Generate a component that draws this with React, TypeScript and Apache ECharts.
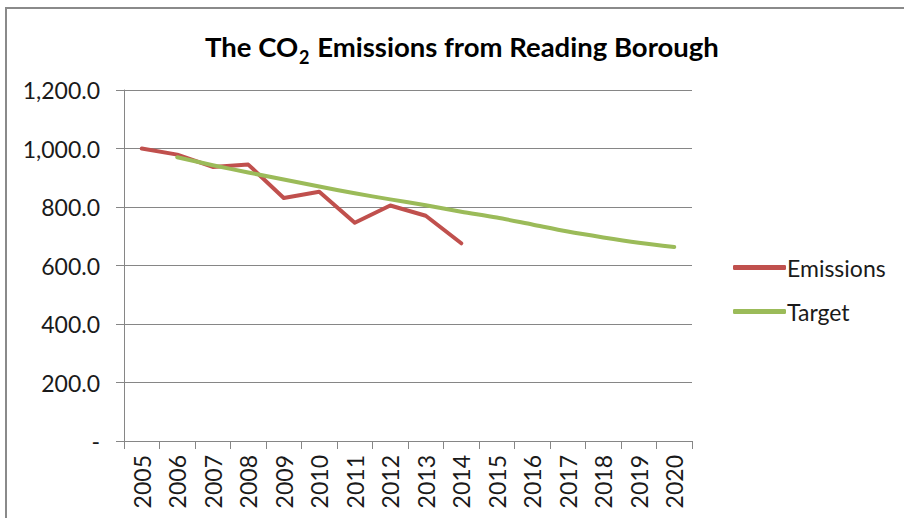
import React, { useEffect, useRef } from "react";
import * as echarts from "echarts";

const years = ["2005","2006","2007","2008","2009","2010","2011","2012","2013","2014","2015","2016","2017","2018","2019","2020"];
const emissions = [1000, 979, 937, 945, 831, 852, 746, 805, 770, 676, null, null, null, null, null, null];
const target = [null, 970, 943, 918, 894, 870, 847, 826, 806, 784, 764, 740, 716, 696, 678, 663];
const yMin = 0;
const yMax = 1200;
const yStep = 200;

const FONT = "Lato";

export default function App() {
  const ref = useRef<HTMLDivElement>(null);
  useEffect(() => {
    if (!ref.current) return;
    const chart = echarts.init(ref.current, null, { renderer: "svg" });
    chart.setOption({
      animation: false,
      backgroundColor: "#ffffff",
      textStyle: { fontFamily: FONT },
      title: {
        text: "{a|The CO}{s|2}{a| Emissions from Reading Borough}",
        left: 200,
        top: 21,
        textStyle: {
          rich: {
            a: { fontFamily: FONT, fontWeight: "bold", fontSize: 27.5, color: "#000" },
            s: { fontFamily: FONT, fontWeight: "bold", fontSize: 18, color: "#000", padding: [22, 1, 0, 1] },
          },
        },
      },
      graphic: [
        {
          type: "rect",
          shape: { x: 6, y: 8, width: 1000, height: 600 },
          style: { fill: "none", stroke: "#8a8a8a", lineWidth: 2 },
          silent: true,
        },
      ],
      legend: {
        orient: "vertical",
        left: 728,
        top: 251,
        itemWidth: 53,
        itemHeight: 5,
        itemGap: 21,
        icon: "roundRect",
        textStyle: { fontFamily: FONT, fontSize: 23, color: "#1a1a1a", padding: [0, 0, 0, -4] },
        data: ["Emissions", "Target"],
      },
      grid: { left: 124, right: 212, top: 90, bottom: 77, containLabel: false },
      xAxis: {
        type: "category",
        data: years,
        boundaryGap: true,
        axisLine: { lineStyle: { color: "#868686", width: 1 } },
        axisTick: { show: true, length: 8, interval: 0, lineStyle: { color: "#868686" } },
        axisLabel: { rotate: 90, interval: 0, margin: 14, fontFamily: FONT, fontSize: 23, color: "#1a1a1a" },
      },
      yAxis: {
        type: "value",
        min: yMin,
        max: yMax,
        interval: yStep,
        axisLine: { show: true, lineStyle: { color: "#868686", width: 1 } },
        axisTick: { show: true, length: 8, lineStyle: { color: "#868686" } },
        splitLine: { lineStyle: { color: "#868686", width: 1 } },
        axisLabel: {
          margin: 24,
          fontFamily: FONT,
          fontSize: 23,
          color: "#1a1a1a",
          formatter: (v: number) =>
            v === 0 ? "-" : v.toLocaleString("en-US", { minimumFractionDigits: 1, maximumFractionDigits: 1 }),
        },
      },
      series: [
        {
          name: "Emissions",
          type: "line",
          data: emissions,
          symbol: "none",
          lineStyle: { color: "#C0504D", width: 4, cap: "round", join: "round" },
          itemStyle: { color: "#C0504D" },
        },
        {
          name: "Target",
          type: "line",
          data: target,
          symbol: "none",
          smooth: 0.3,
          lineStyle: { color: "#9BBB59", width: 4, cap: "round", join: "round" },
          itemStyle: { color: "#9BBB59" },
        },
      ],
    });
    return () => chart.dispose();
  }, []);
  return (
    <div
      ref={ref}
      style={{ position: "absolute", left: 0, top: 0, width: 904, height: 518 }}
    />
  );
}
